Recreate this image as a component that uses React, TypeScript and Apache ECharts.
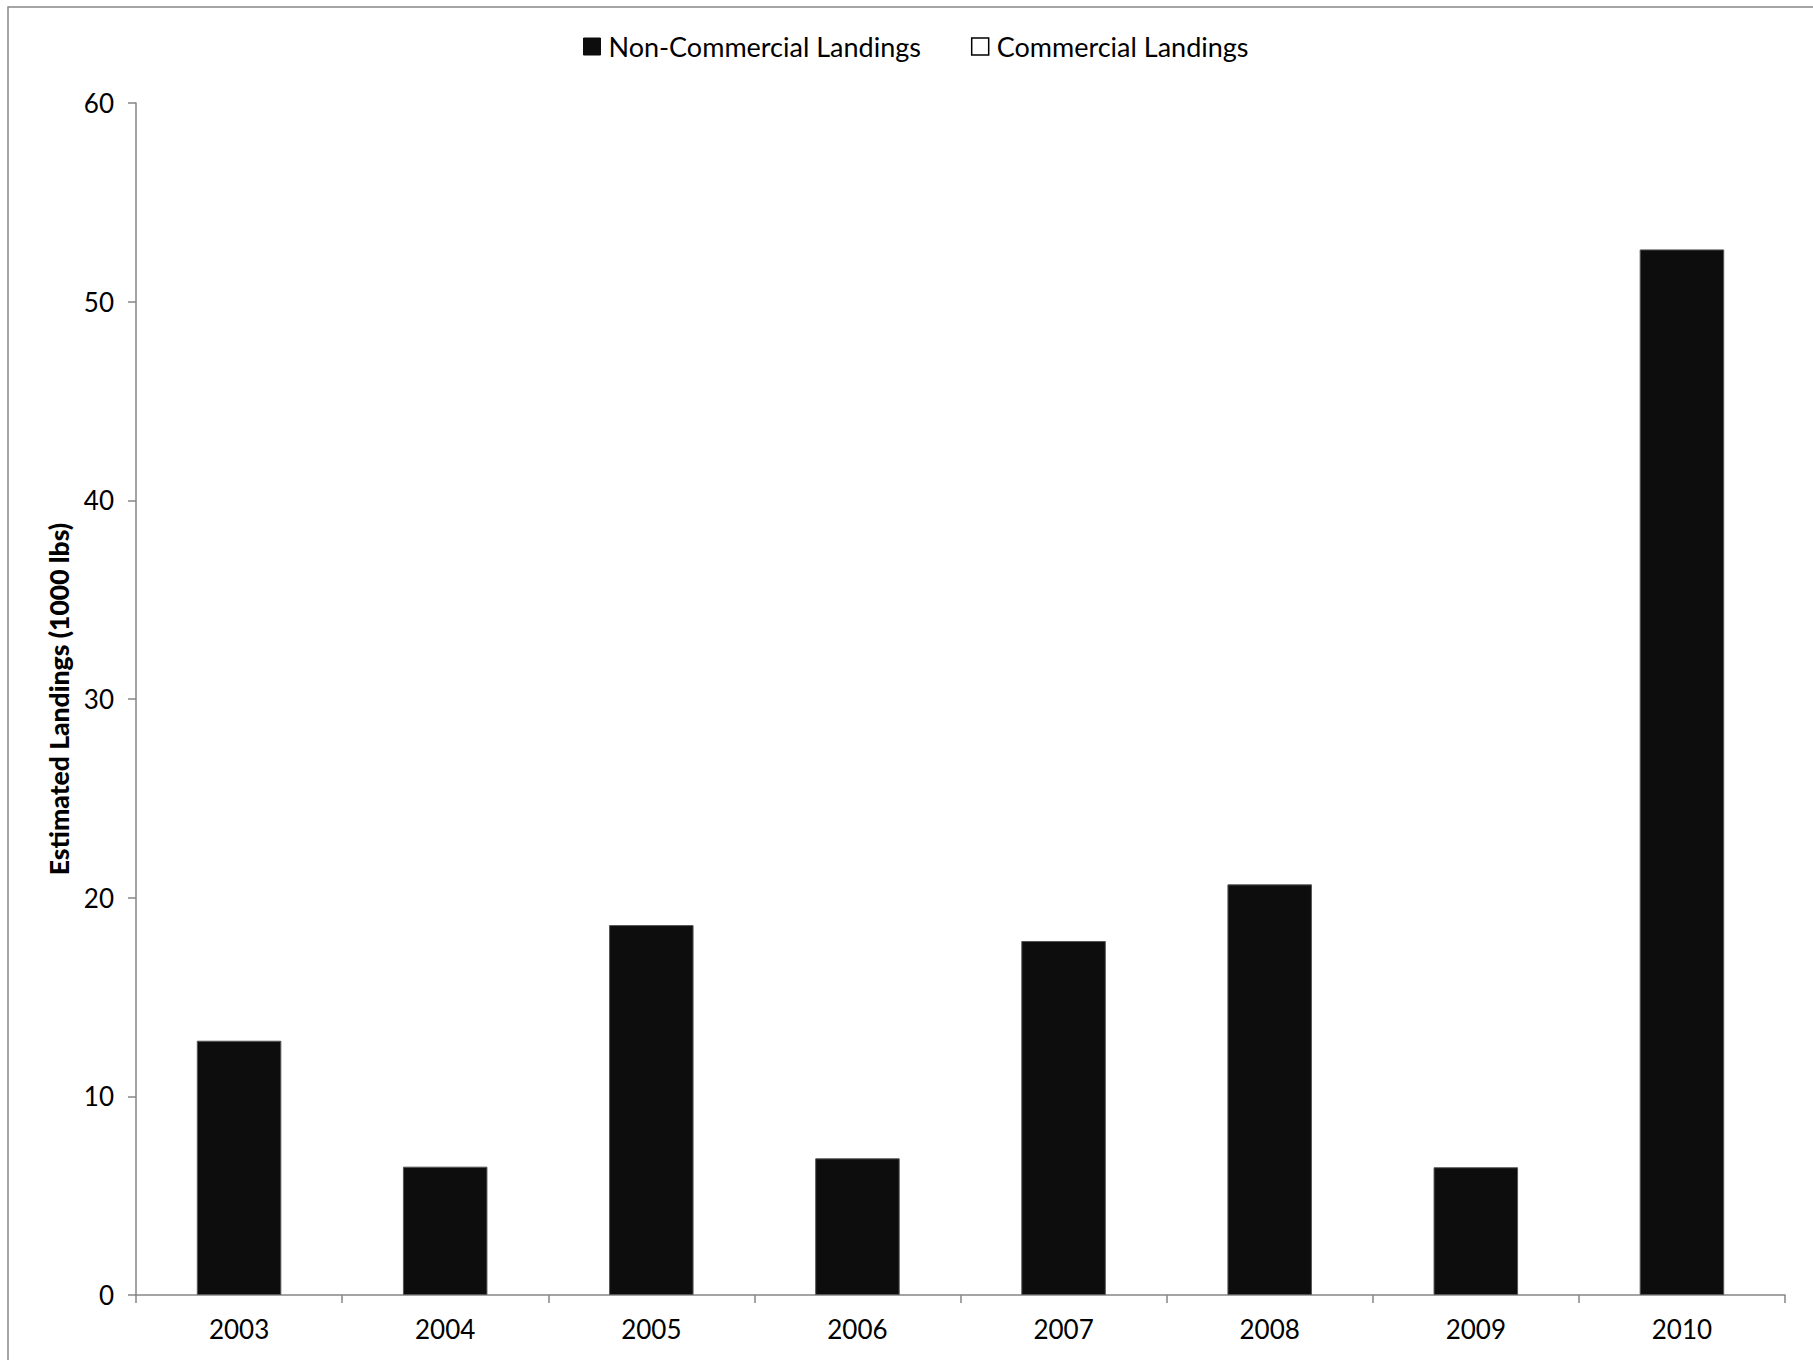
import React, { useEffect, useRef } from "react";
import * as echarts from "echarts";

const years = ["2003", "2004", "2005", "2006", "2007", "2008", "2009", "2010"];
const nonCommercial = [12.8, 6.46, 18.62, 6.88, 17.82, 20.67, 6.43, 52.63];
const commercial = [0, 0, 0, 0, 0, 0, 0, 0];
const yTicks = { min: 0, max: 60, interval: 10 };

const FONT = "Lato";

export default function App() {
  const ref = useRef<HTMLDivElement>(null);
  useEffect(() => {
    document.body.style.margin = "0";
    document.body.style.overflow = "hidden";
    const chart = echarts.init(ref.current!, null, { renderer: "svg" });
    chart.setOption({
      animation: false,
      backgroundColor: "#ffffff",
      textStyle: { fontFamily: FONT, color: "#000" },
      graphic: [
        {
          type: "rect",
          shape: { x: 8, y: 7, width: 1900, height: 1500 },
          style: { fill: "none", stroke: "#888888", lineWidth: 1.5 },
          silent: true,
        },
      ],
      legend: {
        left: 578,
        top: 28,
        itemWidth: 17,
        itemHeight: 17,
        itemGap: 50,
        icon: "rect",
        textStyle: { fontFamily: FONT, fontSize: 27, color: "#000", padding: [0, 0, 0, 3] },
        data: [
          { name: "Non-Commercial Landings", itemStyle: { color: "#0d0d0d", borderColor: "#0d0d0d", borderWidth: 1 } },
          { name: "Commercial Landings", itemStyle: { color: "#ffffff", borderColor: "#000", borderWidth: 1.5 } },
        ],
      },
      grid: { left: 136, right: 28, top: 103, bottom: 65, containLabel: false },
      xAxis: {
        type: "category",
        data: years,
        boundaryGap: true,
        axisLine: { lineStyle: { color: "#868686", width: 1.5 } },
        axisTick: { show: true, length: 8, alignWithLabel: false, lineStyle: { color: "#868686", width: 1.5 } },
        axisLabel: { fontFamily: FONT, fontSize: 26, color: "#000", margin: 21 },
      },
      yAxis: {
        type: "value",
        min: yTicks.min,
        max: yTicks.max,
        interval: yTicks.interval,
        name: "Estimated Landings (1000 lbs)",
        nameLocation: "middle",
        nameGap: 64,
        nameRotate: 90,
        nameTextStyle: { fontFamily: FONT, fontSize: 26.5, fontWeight: 900, color: "#000" },
        axisLine: { show: true, lineStyle: { color: "#868686", width: 1.5 } },
        axisTick: { show: true, length: 8, lineStyle: { color: "#868686", width: 1.5 } },
        axisLabel: { fontFamily: FONT, fontSize: 26, color: "#000", margin: 22 },
        splitLine: { show: false },
      },
      series: [
        {
          name: "Non-Commercial Landings",
          type: "bar",
          stack: "total",
          data: nonCommercial,
          barWidth: "41%",
          itemStyle: { color: "#0d0d0d", borderColor: "#555", borderWidth: 1 },
        },
        {
          name: "Commercial Landings",
          type: "bar",
          stack: "total",
          data: commercial,
          barWidth: "41%",
          itemStyle: { color: "#ffffff", borderColor: "#000", borderWidth: 0 },
        },
      ],
    });
    return () => chart.dispose();
  }, []);
  return <div ref={ref} style={{ width: 1813, height: 1360 }} />;
}
